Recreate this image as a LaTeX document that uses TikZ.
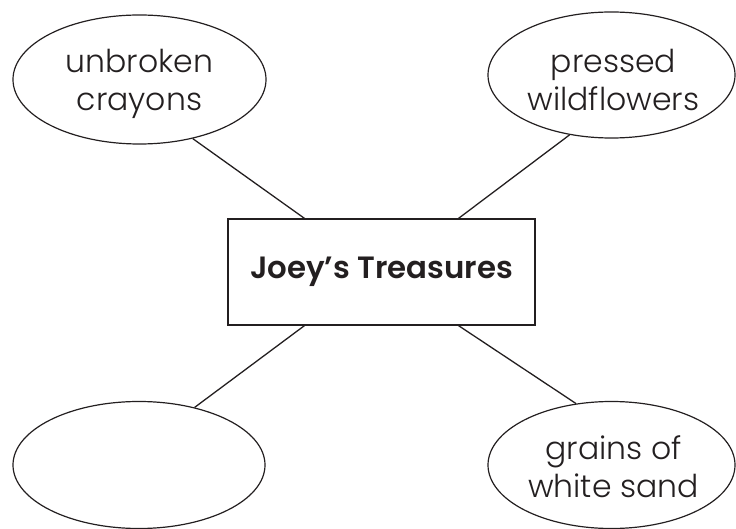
\documentclass[tikz,border=0pt]{standalone}
\usepackage{fontspec}
\setmainfont{Poppins}[UprightFont=* Light,BoldFont=* SemiBold]
\usetikzlibrary{shapes.geometric,calc}
\definecolor{ink}{RGB}{35,31,32}
\begin{document}
\begin{tikzpicture}[x=1pt,y=-1pt,
  bubble/.style={ellipse,draw=ink,line width=1.2pt,inner sep=0pt},
  bubbletext/.style={align=center,inner sep=0pt,font=\fontsize{31.5}{38}\selectfont,text=ink},
  centerbox/.style={rectangle,draw=ink,line width=1.3pt,minimum width=307pt,
    minimum height=106pt,inner sep=0pt,font=\bfseries\fontsize{30.8}{34}\selectfont,text=ink},
  link/.style={draw=ink,line width=1.3pt}]
\useasboundingbox (0,0) rectangle (736,529);
\node[bubble,minimum width=253pt,minimum height=129pt] (tl) at (139.5,79.5) {};
\node[bubble,minimum width=247pt,minimum height=126pt] (tr) at (611.5,75) {};
\node[bubble,minimum width=252pt,minimum height=127pt] (bl) at (139,465) {};
\node[bubble,minimum width=247pt,minimum height=127pt] (br) at (611.5,465) {};
\node[bubbletext] (tltext) at ($(tl)+(0,4)$) {unbroken\\crayons};
\node[bubbletext] (trtext) at ($(tr)+(2,4.5)$) {pressed\\wildflowers};
\node[bubbletext] (brtext) at ($(br)+(2,2)$) {grains of\\white sand};
\node[centerbox] (box) at (381.5,272) {Joey’s Treasures};
\draw[link] (tl.-48) -- ($(box.north west)!0.25!(box.north east)$);
\draw[link] (tr.235) -- ($(box.north west)!0.75!(box.north east)$);
\draw[link] (bl.46) -- ($(box.south west)!0.25!(box.south east)$);
\draw[link] (br.120) -- ($(box.south west)!0.75!(box.south east)$);
\end{tikzpicture}
\end{document}
